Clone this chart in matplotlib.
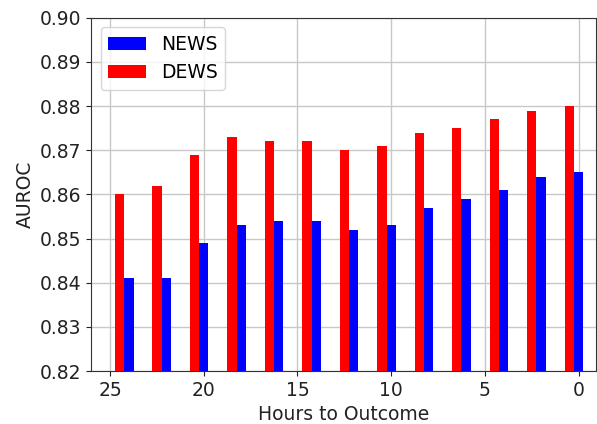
import matplotlib
matplotlib.use("Agg")
import matplotlib.pyplot as plt
import numpy as np

# Hours before the outcome at which each score was evaluated
hours = [24, 22, 20, 18, 16, 14, 12, 10, 8, 6, 4, 2, 0]
news_auroc = [0.841, 0.841, 0.849, 0.853, 0.854, 0.854, 0.852,
              0.853, 0.857, 0.859, 0.861, 0.864, 0.865]
dews_auroc = [0.860, 0.862, 0.869, 0.873, 0.872, 0.872, 0.870,
              0.871, 0.874, 0.875, 0.877, 0.879, 0.880]
x_ticks = [25, 20, 15, 10, 5, 0]
y_ticks = [0.82, 0.83, 0.84, 0.85, 0.86, 0.87, 0.88, 0.89, 0.90]

fig = plt.figure(figsize=(5.97, 4.24), dpi=100)
ax = fig.add_axes([0.153, 0.125, 0.846, 0.833])

bar_w = 0.5
h = np.array(hours, dtype=float)
ax.bar(h, news_auroc, width=bar_w, color="blue", label="NEWS", zorder=3)
ax.bar(h + bar_w, dews_auroc, width=bar_w, color="red", label="DEWS", zorder=3)

ax.set_xlim(26.0, -0.95)
ax.set_ylim(0.82, 0.90)
ax.set_xticks(x_ticks)
ax.set_yticks(y_ticks)
ax.set_yticklabels([f"{v:.2f}" for v in y_ticks])
ax.tick_params(labelsize=13.5, colors="#222222")
ax.grid(True, color="#c8c8c8", linewidth=1.0, zorder=0)
ax.set_axisbelow(True)

ax.set_xlabel("Hours to Outcome", fontsize=13.5, color="#222222")
ax.set_ylabel("AUROC", fontsize=13.5, color="#222222")

for s in ax.spines.values():
    s.set_color("#333333")

ax.legend(loc="upper left", fontsize=13.5, framealpha=0.8,
          borderaxespad=0.5)

fig.savefig("out.png", dpi=100)
